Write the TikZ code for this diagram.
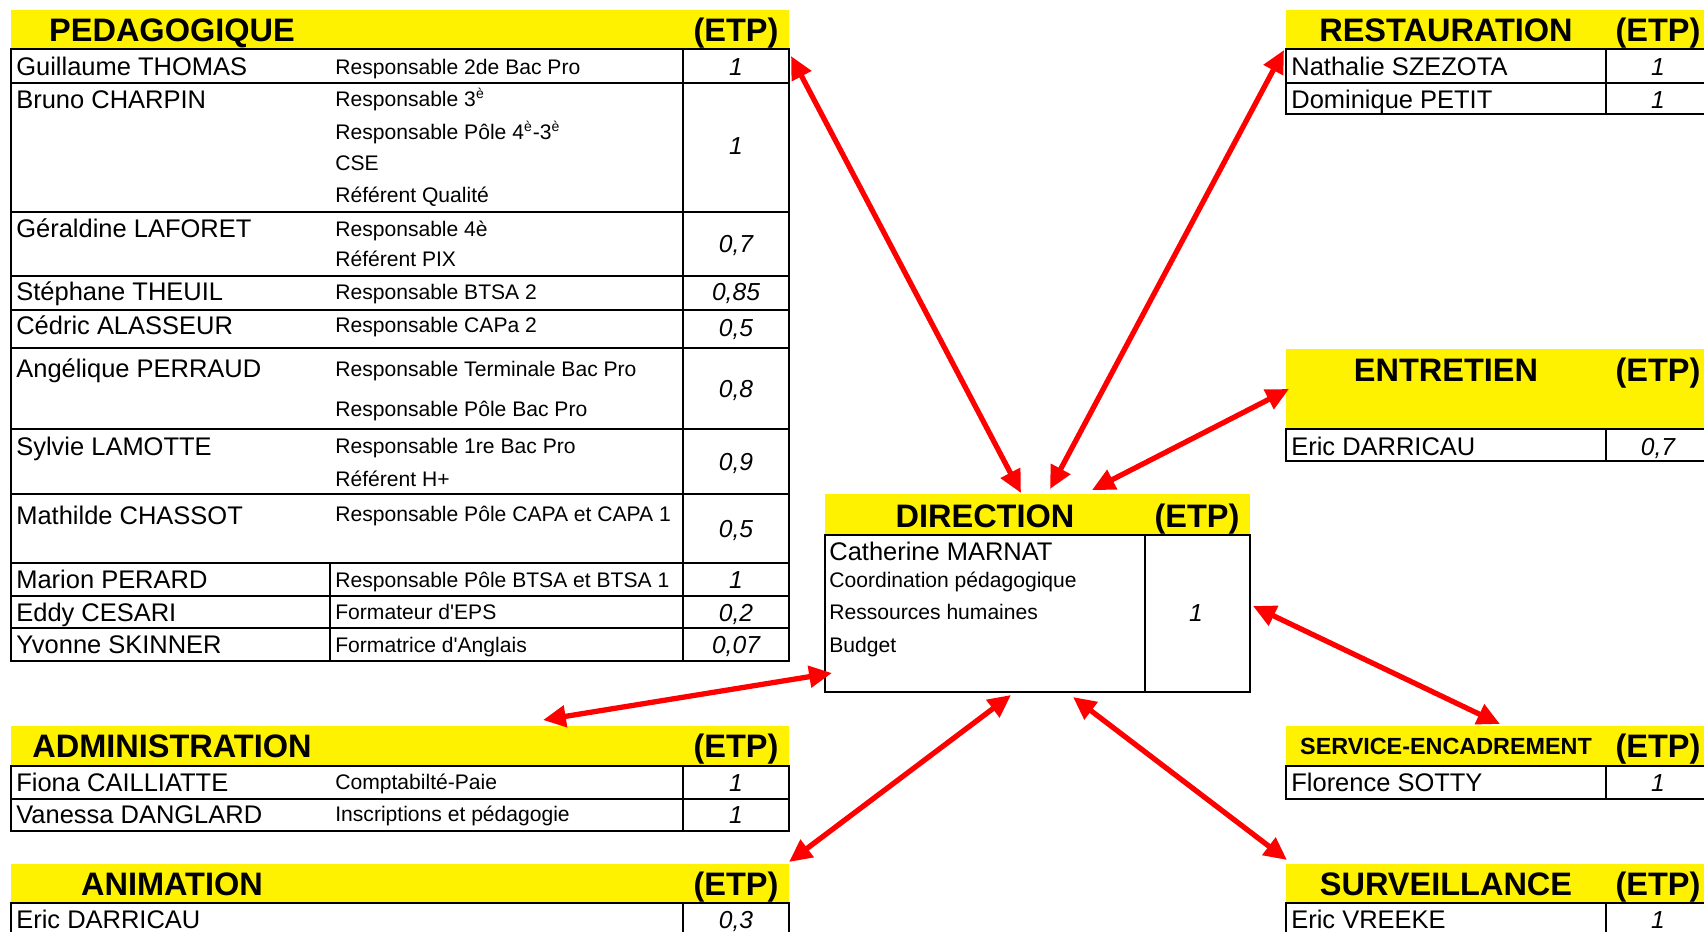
\documentclass[tikz,border=0pt]{standalone}
\usepackage{fontspec}
\setmainfont{Liberation Sans}
\usetikzlibrary{arrows.meta}

\begin{document}
\begin{tikzpicture}[x=0.02cm, y=-0.02cm,
    title/.style={anchor=base, inner sep=0pt, font=\fontsize{18.5}{22}\selectfont\bfseries},
    person/.style={anchor=base west, inner sep=0pt, font=\fontsize{14.5}{17}\selectfont},
    role/.style={anchor=base west, inner sep=0pt, font=\fontsize{12}{14}\selectfont},
    etp/.style={anchor=base, inner sep=0pt, font=\fontsize{14}{17}\selectfont\itshape},
    grid/.style={line width=1pt},
    link/.style={{Triangle[length=13pt,width=12pt]}-{Triangle[length=13pt,width=12pt]}, red, line width=3pt}]

    \useasboundingbox (0,0) rectangle (1704,931);
    \clip (0,0) rectangle (1704,931);

    %% PEDAGOGIQUE
    \begin{scope}
        % Header
        \fill[yellow] (11,10) rectangle (789,49);
        \node[title] (peda) at (172,41) {PEDAGOGIQUE};
        \node[title] (peda-etp) at (736,41) {(ETP)};

        % Grid
        \draw[grid] (11,49) rectangle (789,661);
        \draw[grid] (683,49) -- (683,661);
        \draw[grid] (330,563) -- (330,661);
        \foreach \y in {83,212,276,310,348,429,494,563,596,628}
            \draw[grid] (11,\y) -- (789,\y);

        % Names
        \node[person] (thomas) at (16,75) {Guillaume THOMAS};
        \node[person] (charpin) at (16,108) {Bruno CHARPIN};
        \node[person] (laforet) at (16,237) {Géraldine LAFORET};
        \node[person] (theuil) at (16,300) {Stéphane THEUIL};
        \node[person] (alasseur) at (16,334) {Cédric ALASSEUR};
        \node[person] (perraud) at (16,377) {Angélique PERRAUD};
        \node[person] (lamotte) at (16,455) {Sylvie LAMOTTE};
        \node[person] (chassot) at (16,524) {Mathilde CHASSOT};
        \node[person] (perard) at (16,588) {Marion PERARD};
        \node[person] (cesari) at (16,621) {Eddy CESARI};
        \node[person] (skinner) at (16,653) {Yvonne SKINNER};

        % Roles
        \node[role] (r-thomas) at (335,74) {Responsable 2de Bac Pro};
        \node[role] (r-charpin-a) at (335,106) {Responsable 3\textsuperscript{è}};
        \node[role] (r-charpin-b) at (335,139) {Responsable Pôle 4\textsuperscript{è}-3\textsuperscript{è}};
        \node[role] (r-charpin-c) at (335,170) {CSE};
        \node[role] (r-charpin-d) at (335,202) {Référent Qualité};
        \node[role] (r-laforet-a) at (335,236) {Responsable 4è};
        \node[role] (r-laforet-b) at (335,266) {Référent PIX};
        \node[role] (r-theuil) at (335,299) {Responsable BTSA 2};
        \node[role] (r-alasseur) at (335,332) {Responsable CAPa 2};
        \node[role] (r-perraud-a) at (335,376) {Responsable Terminale Bac Pro};
        \node[role] (r-perraud-b) at (335,416) {Responsable Pôle Bac Pro};
        \node[role] (r-lamotte-a) at (335,453) {Responsable 1re Bac Pro};
        \node[role] (r-lamotte-b) at (335,486) {Référent H+};
        \node[role] (r-chassot) at (335,521) {Responsable Pôle CAPA et CAPA 1};
        \node[role] (r-perard) at (335,587) {Responsable Pôle BTSA et BTSA 1};
        \node[role] (r-cesari) at (335,619) {Formateur d\textquotesingle EPS};
        \node[role] (r-skinner) at (335,652) {Formatrice d\textquotesingle Anglais};

        % ETP
        \node[etp] (e-thomas) at (736,75) {1};
        \node[etp] (e-charpin) at (736,154) {1};
        \node[etp] (e-laforet) at (736,252) {0,7};
        \node[etp] (e-theuil) at (736,300) {0,85};
        \node[etp] (e-alasseur) at (736,336) {0,5};
        \node[etp] (e-perraud) at (736,397) {0,8};
        \node[etp] (e-lamotte) at (736,470) {0,9};
        \node[etp] (e-chassot) at (736,537) {0,5};
        \node[etp] (e-perard) at (736,588) {1};
        \node[etp] (e-cesari) at (736,621) {0,2};
        \node[etp] (e-skinner) at (736,653) {0,07};
    \end{scope}

    %% ADMINISTRATION
    \begin{scope}
        \fill[yellow] (11,726) rectangle (789,766);
        \node[title] (admin) at (172,757) {ADMINISTRATION};
        \node[title] (admin-etp) at (736,757) {(ETP)};
        \draw[grid] (11,766) rectangle (789,831);
        \draw[grid] (683,766) -- (683,831);
        \draw[grid] (11,799) -- (789,799);
        \node[person] (cailliatte) at (16,791) {Fiona CAILLIATTE};
        \node[person] (danglard) at (16,823) {Vanessa DANGLARD};
        \node[role] (r-cailliatte) at (335,789) {Comptabilté-Paie};
        \node[role] (r-danglard) at (335,821) {Inscriptions et pédagogie};
        \node[etp] (e-cailliatte) at (736,791) {1};
        \node[etp] (e-danglard) at (736,823) {1};
    \end{scope}

    %% ANIMATION
    \begin{scope}
        \fill[yellow] (11,864) rectangle (789,903);
        \node[title] (anim) at (172,895) {ANIMATION};
        \node[title] (anim-etp) at (736,895) {(ETP)};
        \draw[grid] (11,903) rectangle (789,945);
        \draw[grid] (683,903) -- (683,945);
        \node[person] (darricau-a) at (16,928) {Eric DARRICAU};
        \node[etp] (e-darricau-a) at (736,928) {0,3};
    \end{scope}

    %% DIRECTION
    \begin{scope}
        \fill[yellow] (825,494) rectangle (1250,535);
        \node[title] (dir) at (985,527) {DIRECTION};
        \node[title] (dir-etp) at (1197,527) {(ETP)};
        \draw[grid] (825,535) rectangle (1250,692);
        \draw[grid] (1145,535) -- (1145,692);
        \node[person] (marnat) at (829,560) {Catherine MARNAT};
        \node[role] (r-marnat-a) at (829,587) {Coordination pédagogique};
        \node[role] (r-marnat-b) at (829,619) {Ressources humaines};
        \node[role] (r-marnat-c) at (829,652) {Budget};
        \node[etp] (e-marnat) at (1196,621) {1};
    \end{scope}

    %% RESTAURATION
    \begin{scope}
        \fill[yellow] (1286,10) rectangle (1710,49);
        \node[title] (resto) at (1446,41) {RESTAURATION};
        \node[title] (resto-etp) at (1658,41) {(ETP)};
        \draw[grid] (1286,49) rectangle (1710,114);
        \draw[grid] (1606,49) -- (1606,114);
        \draw[grid] (1286,83) -- (1710,83);
        \node[person] (szezota) at (1291,75) {Nathalie SZEZOTA};
        \node[person] (petit) at (1291,108) {Dominique PETIT};
        \node[etp] (e-szezota) at (1658,75) {1};
        \node[etp] (e-petit) at (1658,108) {1};
    \end{scope}

    %% ENTRETIEN
    \begin{scope}
        \fill[yellow] (1286,349) rectangle (1710,429);
        \node[title] (entr) at (1446,381) {ENTRETIEN};
        \node[title] (entr-etp) at (1658,381) {(ETP)};
        \draw[grid] (1286,429) rectangle (1710,461);
        \draw[grid] (1606,429) -- (1606,461);
        \node[person] (darricau-b) at (1291,455) {Eric DARRICAU};
        \node[etp] (e-darricau-b) at (1658,455) {0,7};
    \end{scope}

    %% SERVICE-ENCADREMENT
    \begin{scope}
        \fill[yellow] (1286,726) rectangle (1710,766);
        \node[title, font=\fontsize{13.3}{16}\selectfont\bfseries] (serv) at (1446,754) {SERVICE-ENCADREMENT};
        \node[title] (serv-etp) at (1658,757) {(ETP)};
        \draw[grid] (1286,766) rectangle (1710,799);
        \draw[grid] (1606,766) -- (1606,799);
        \node[person] (sotty) at (1291,791) {Florence SOTTY};
        \node[etp] (e-sotty) at (1658,791) {1};
    \end{scope}

    %% SURVEILLANCE
    \begin{scope}
        \fill[yellow] (1286,864) rectangle (1710,903);
        \node[title] (surv) at (1446,895) {SURVEILLANCE};
        \node[title] (surv-etp) at (1658,895) {(ETP)};
        \draw[grid] (1286,903) rectangle (1710,945);
        \draw[grid] (1606,903) -- (1606,945);
        \node[person] (vreeke) at (1291,928) {Eric VREEKE};
        \node[etp] (e-vreeke) at (1658,928) {1};
    \end{scope}

    %% Links to the direction
    \coordinate (peda-end) at (791,56);
    \coordinate (resto-end) at (1284,50);
    \coordinate (entr-end) at (1289,389);
    \coordinate (admin-end) at (543,720);
    \coordinate (serv-end) at (1500,724);
    \coordinate (anim-end) at (789,862);
    \coordinate (surv-end) at (1287,860);
    \coordinate (dir-a) at (1021,493);
    \coordinate (dir-b) at (1050,489);
    \coordinate (dir-c) at (1092,490);
    \coordinate (dir-d) at (832,673);
    \coordinate (dir-e) at (1253,606);
    \coordinate (dir-f) at (1011,695);
    \coordinate (dir-g) at (1073,697);

    \draw[link] (peda-end) -- (dir-a);
    \draw[link] (resto-end) -- (dir-b);
    \draw[link] (entr-end) -- (dir-c);
    \draw[link] (admin-end) -- (dir-d);
    \draw[link] (serv-end) -- (dir-e);
    \draw[link] (anim-end) -- (dir-f);
    \draw[link] (surv-end) -- (dir-g);

\end{tikzpicture}
\end{document}
